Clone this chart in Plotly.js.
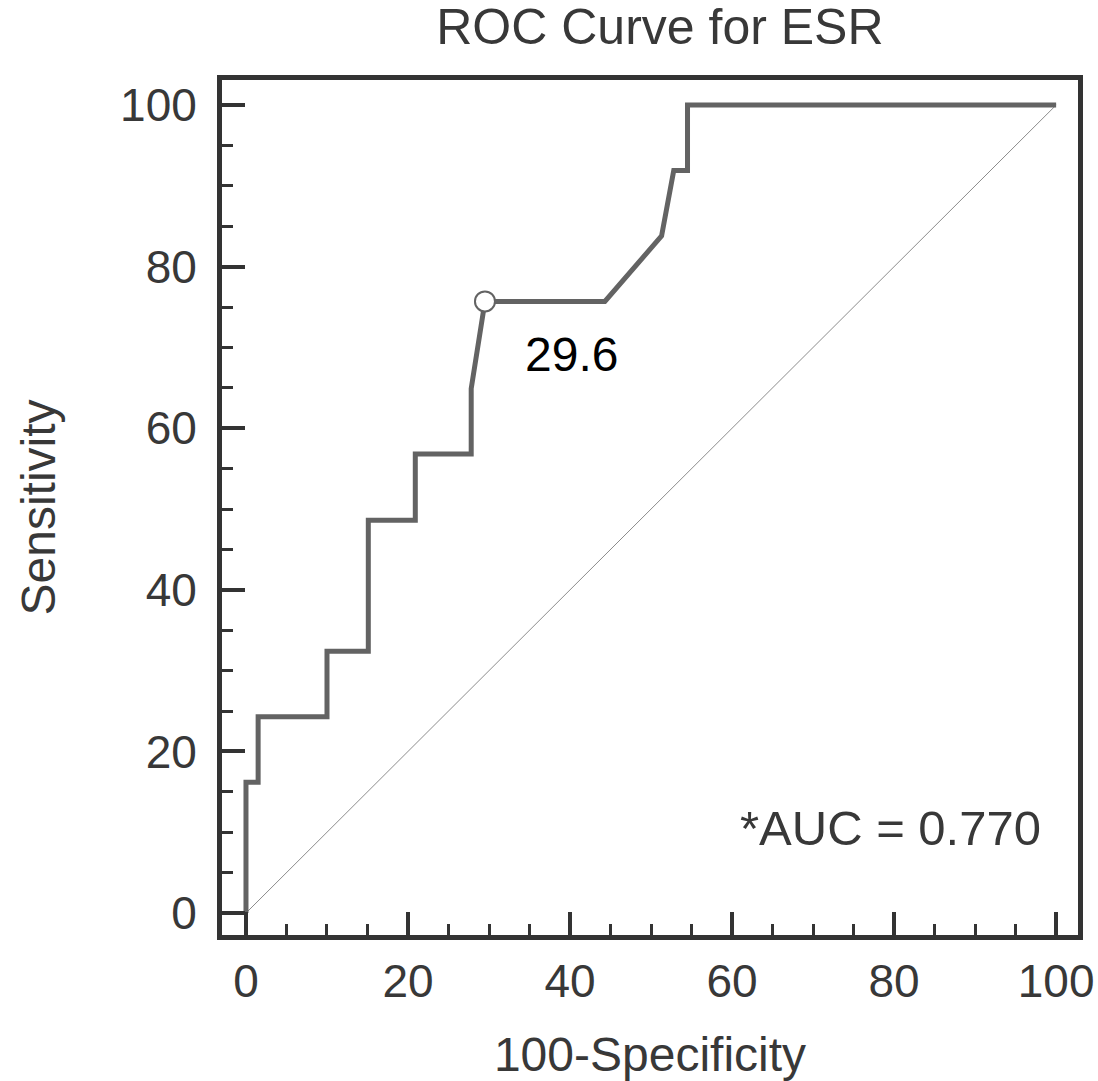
<!DOCTYPE html>
<html>
<head>
<meta charset="utf-8">
<script src="https://cdn.plot.ly/plotly-3.0.1.min.js"></script>
<style>html,body{margin:0;padding:0;background:#fff;}#chart{width:1098px;height:1081px;}</style>
</head>
<body>
<div id="chart"></div>
<script>
// ROC curve points (100-Specificity, Sensitivity)
const fpr = [0, 0, 1.5, 1.5, 10, 10, 15.1, 15.1, 20.9, 20.9, 27.8, 27.8, 29.5, 44.3, 51.3, 52.8, 54.5, 54.5, 100];
const tpr = [0, 16.2, 16.2, 24.3, 24.3, 32.4, 32.4, 48.6, 48.6, 56.8, 56.8, 64.9, 75.7, 75.7, 83.8, 91.9, 91.9, 100, 100];
// Reference diagonal
const diagX = [0, 100];
const diagY = [0, 100];
// Optimal cut-off point
const cutX = [29.5];
const cutY = [75.7];
const cutLabel = "29.6";
const aucText = "*AUC = 0.770";
const tickVals = [0, 20, 40, 60, 80, 100];

const font = '"Liberation Sans", Arial, sans-serif';
const frameColor = '#333333';
const textColor = '#383838';

const traces = [
  {x: diagX, y: diagY, mode: 'lines', line: {color: '#8c8c8c', width: 1}, hoverinfo: 'skip', showlegend: false},
  {x: fpr, y: tpr, mode: 'lines', line: {color: '#636363', width: 5}, showlegend: false},
  {x: cutX, y: cutY, mode: 'markers', marker: {symbol: 'circle', size: 20, color: '#ffffff', line: {color: '#636363', width: 2}}, showlegend: false}
];

const axisCommon = {
  showgrid: false, zeroline: false,
  showline: true, linecolor: frameColor, linewidth: 5, mirror: true,
  ticks: 'inside', ticklen: 23, tickwidth: 4, tickcolor: frameColor,
  tickvals: tickVals,
  tickfont: {family: font, size: 46, color: textColor},
  minor: {dtick: 5, ticks: 'inside', ticklen: 11, tickwidth: 3, tickcolor: frameColor, showgrid: false}
};

const layout = {
  width: 1098, height: 1081,
  margin: {l: 222, r: 20, t: 80, b: 146},
  paper_bgcolor: '#ffffff', plot_bgcolor: '#ffffff',
  font: {family: font, color: textColor},
  title: {text: 'ROC Curve for ESR', font: {family: font, size: 50, color: textColor}, x: 0.601, xanchor: 'center', y: 0.992, yanchor: 'top'},
  xaxis: Object.assign({}, axisCommon, {
    range: [-2.96, 102.7],
    ticklabelstandoff: 2,
    title: {text: '100-Specificity', font: {family: font, size: 48, color: textColor}, standoff: 35}
  }),
  yaxis: Object.assign({}, axisCommon, {
    range: [-2.72, 103.1],
    ticklabelstandoff: 11,
    title: {text: 'Sensitivity', font: {family: font, size: 48, color: textColor}, standoff: 51}
  }),
  annotations: [
    {x: 40.2, y: 69.1, xref: 'x', yref: 'y', text: cutLabel, showarrow: false, font: {family: font, size: 48, color: '#000000'}, xanchor: 'center', yanchor: 'middle'},
    {x: 98.4, y: 10.5, xref: 'x', yref: 'y', text: aucText, showarrow: false, font: {family: font, size: 49, color: textColor}, xanchor: 'right', yanchor: 'middle'}
  ]
};

Plotly.newPlot('chart', traces, layout, {displayModeBar: false, staticPlot: true});
</script>
</body>
</html>
